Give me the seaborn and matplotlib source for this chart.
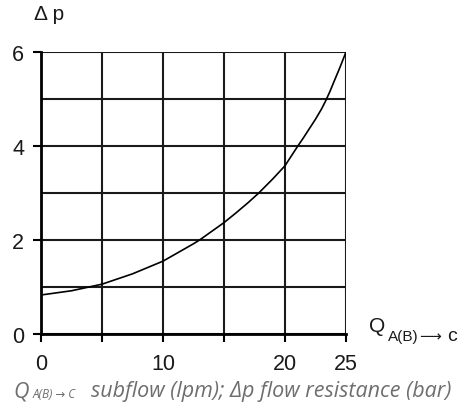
import numpy as np
import pandas as pd
import seaborn as sns
import matplotlib.pyplot as plt

sns.set_style("white")
plt.rcParams['font.family'] = ['Liberation Sans', 'DejaVu Sans']

# Curve: subflow Q (lpm) vs flow resistance dp (bar)
flow = [0, 2.5, 5, 7.5, 10, 12.5, 13, 15, 16, 17, 17.85, 19, 20, 21, 21.5, 22, 22.5,
        23, 23.35, 23.7, 24, 24.5, 25]
resistance = [0.83, 0.92, 1.06, 1.28, 1.55, 1.92, 2.0, 2.37, 2.58, 2.8, 3.0, 3.3, 3.58,
              3.98, 4.17, 4.37, 4.57, 4.79, 4.97, 5.17, 5.36, 5.67, 6.0]

x_grid = [0, 5, 10, 15, 20, 25]
x_labels = ['0', '', '10', '', '20', '25']
y_major = [0, 2, 4, 6]
y_labels = ['0', '2', '4', '6']
y_minor = [1, 3, 5]

df = pd.DataFrame({'Q': flow, 'dp': resistance})

W, H = 468, 410
fig = plt.figure(figsize=(W / 100, H / 100), dpi=100)
ax = fig.add_axes([41 / W, 1 - 335 / H, 305 / W, 282 / H])

sns.lineplot(data=df, x='Q', y='dp', ax=ax, color='black', linewidth=1.2)

ax.set_xlim(0, 25)
ax.set_ylim(0, 6)
ax.set_xticks(x_grid)
ax.set_xticklabels(x_labels, fontsize=15.5)
ax.set_yticks(y_major)
ax.set_yticklabels(y_labels, fontsize=15.5)
ax.set_yticks(y_minor, minor=True)
ax.set_xlabel('')
ax.set_ylabel('')

# full grid drawn as heavy black lines
ax.grid(True, which='both', color='#1a1a1a', linewidth=1.5)
ax.set_axisbelow(True)

for side, spine in ax.spines.items():
    if side in ['left', 'bottom']:
        spine.set_visible(True)
        spine.set_color('black')
        spine.set_linewidth(2.0)
    else:
        spine.set_visible(False)

ax.tick_params(axis='both', direction='out', length=6, width=1.5,
               color='black', pad=6, labelcolor='#1a1a1a')
ax.tick_params(axis='x', pad=8)
ax.tick_params(axis='y', which='minor', length=0)
ax.xaxis.set_ticks_position('bottom')
ax.yaxis.set_ticks_position('left')


def px(x, y):
    return x / W, 1 - y / H


# axis names
fig.text(*px(34, 15), '\u0394 p', fontsize=15, va='center', ha='left', color='#1a1a1a')
fig.text(*px(369, 327), 'Q', fontsize=15, va='center', ha='left', color='#1a1a1a')
fig.text(*px(388, 337), 'A(B)', fontsize=11, va='center', ha='left', color='#1a1a1a')
fig.text(*px(419, 337), '\u27f6', fontsize=11, va='center', ha='left', color='#1a1a1a',
         family=['DejaVu Sans'])
fig.text(*px(447, 337), 'c', fontsize=14, va='center', ha='left', color='#1a1a1a')

# caption
cap = dict(color='#6e6e6e', style='italic', family=['Open Sans', 'DejaVu Sans'], va='center', ha='left')
fig.text(*px(13, 392), 'Q', fontsize=15.5, **cap)
fig.text(*px(33, 395), 'A(B) \u2192 C', fontsize=8.5, **cap)
fig.text(*px(91, 392), 'subflow (lpm); \u0394p flow resistance (bar)', fontsize=15.5, **cap)

fig.savefig('out.png', dpi=100)
